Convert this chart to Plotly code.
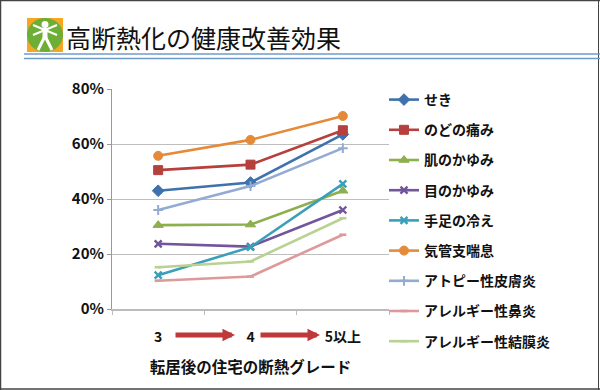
import plotly.graph_objects as go

categories = ["3", "4", "5以上"]
names = ["せき", "のどの痛み", "肌のかゆみ", "目のかゆみ", "手足の冷え", "気管支喘息",
         "アトピー性皮膚炎", "アレルギー性鼻炎", "アレルギー性結膜炎"]
seki = [0.43, 0.46, 0.635]
nodo = [0.505, 0.525, 0.65]
hada = [0.305, 0.307, 0.43]
me = [0.237, 0.227, 0.36]
teashi = [0.123, 0.225, 0.455]
kikan = [0.557, 0.615, 0.702]
atopy = [0.36, 0.447, 0.585]
bien = [0.103, 0.118, 0.27]
ketsumaku = [0.152, 0.173, 0.33]
values = [seki, nodo, hada, me, teashi, kikan, atopy, bien, ketsumaku]
colors = ["#3F72AC", "#B5403D", "#8DAF4E", "#72559A", "#3A9FB8", "#E58A38", "#93ABD3", "#DE9A9A", "#B9D293"]
symbols = ["diamond", "square", "triangle-up", "x-thin", "x-thin", "circle", "cross-thin", "line-ew", "line-ew"]
msize = [9, 9, 9, 7, 7, 9, 7, 5, 5]
mline = [1, 1, 1, 2.4, 2.4, 1, 2, 2.6, 2.6]

JP = "Noto Sans CJK JP"
fig = go.Figure()
for n, v, c, s, m, w in zip(names, values, colors, symbols, msize, mline):
    fig.add_trace(go.Scatter(
        x=categories, y=v, name=n, legendgroup=n, mode="lines+markers",
        line=dict(color=c, width=2.6),
        marker=dict(symbol=s, size=m, color=c, line=dict(color=c, width=w)),
    ))


def px(x):
    return (x - 112) / 277


def py(y):
    return (309 - y) / 220


def rect(x0, y0, x1, y1, **kw):
    return dict(type="rect", xref="paper", yref="paper", x0=px(x0), x1=px(x1), y0=py(y0), y1=py(y1), **kw)


def line(x0, y0, x1, y1, color, width):
    return dict(type="line", xref="paper", yref="paper", x0=px(x0), x1=px(x1), y0=py(y0), y1=py(y1),
                line=dict(color=color, width=width))


def circ(x0, y0, x1, y1, fill):
    return dict(type="circle", xref="paper", yref="paper", x0=px(x0), x1=px(x1), y0=py(y0), y1=py(y1),
                fillcolor=fill, line=dict(width=0))


shapes = [
    # page frame
    line(0.5, 0, 0.5, 390, "#444444", 1.5),
    line(0, 0.5, 600, 0.5, "#444444", 1.5),
    line(0, 389, 600, 389, "#444444", 1.5),
    line(598.5, 0, 598.5, 390, "#444444", 1),
    # title rules
    line(24, 54, 600, 54, "#6F9BC8", 1.5),
    line(24, 58.5, 600, 58.5, "#6F9BC8", 1.5),
    # icon
    rect(27, 18, 63, 52, fillcolor="#F5A623", line=dict(width=0)),
    circ(27, 18, 63, 52, "#6DAE35"),
    circ(41.5, 21, 48.5, 28, "#FFFFFF"),
    line(45, 28, 45, 39, "#FFFFFF", 5),
    line(45, 30, 33, 25, "#FFFFFF", 2),
    line(45, 30, 57, 25, "#FFFFFF", 2),
    line(45, 30, 33, 35, "#FFFFFF", 2),
    line(45, 30, 57, 35, "#FFFFFF", 2),
    line(44, 38, 38, 50, "#FFFFFF", 3),
    line(46, 38, 52, 50, "#FFFFFF", 3),
]

annotations = [
    dict(text="高断熱化の健康改善効果", xref="paper", yref="paper", x=px(64), y=py(37), xanchor="left", yanchor="middle",
         showarrow=False, font=dict(family=JP, size=25, color="#111111")),
]
for x0, x1 in [(174, 235), (259, 320)]:
    annotations.append(dict(
        x=px(x1), y=py(335), ax=x0 - x1, ay=0, xref="paper", yref="paper",
        text="", showarrow=True, arrowhead=2, arrowsize=0.5, arrowwidth=5, arrowcolor="#C0393A",
    ))

fig.update_layout(
    width=600, height=390, autosize=False,
    margin=dict(l=112, r=211, t=89, b=81),
    paper_bgcolor="white", plot_bgcolor="white",
    font=dict(family=JP, size=13, color="#111111"),
    showlegend=True,
    legend=dict(x=px(384), y=py(84), xanchor="left", yanchor="top", tracegroupgap=9, maxheight=300,
                font=dict(family=JP, size=14, weight=700, color="#111111"),
                itemwidth=30, bgcolor="rgba(0,0,0,0)"),
    shapes=shapes, annotations=annotations,
    xaxis=dict(type="category", range=[-0.5, 2.5], tickson="boundaries", ticks="outside", ticklen=4,
               tickcolor="#BBBBBB", showline=True, linecolor="#BBBBBB", linewidth=1.5, showgrid=False,
               tickfont=dict(family=JP, size=14, weight=700, color="#111111"), ticklabelstandoff=14,
               title=dict(text="転居後の住宅の断熱グレード", standoff=18,
                          font=dict(family=JP, size=15.5, weight=700, color="#111111"))),
    yaxis=dict(range=[0, 0.8], dtick=0.2, tickformat=".0%", ticks="outside", ticklen=4, tickcolor="#999999",
               showline=True, linecolor="#999999", linewidth=1, showgrid=True, gridcolor="#BEBEBE", gridwidth=1,
               zeroline=False, tickfont=dict(family=JP, size=15, weight=700, color="#111111")),
)
fig.write_html("out.html", config=dict(displayModeBar=False),
               post_script="document.body.style.margin='0';document.body.style.overflow='hidden';")
